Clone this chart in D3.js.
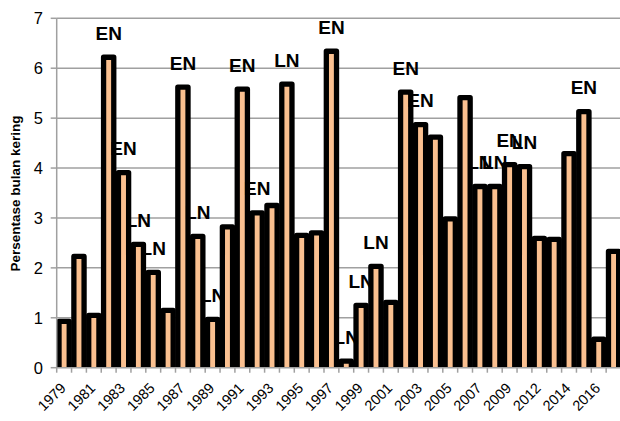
<!DOCTYPE html>
<html>
<head>
<meta charset="utf-8">
<script src="https://cdn.jsdelivr.net/npm/d3@7"></script>
<style>
  html, body { margin: 0; padding: 0; background: #fff; }
  svg { display: block; font-family: "Liberation Sans", Arial, sans-serif; }
</style>
</head>
<body>
<svg id="chart" width="620" height="421"></svg>
<script>
const years = ["1979","1980","1981","1982","1983","1984","1985","1986","1987","1988",
  "1989","1990","1991","1992","1993","1994","1995","1996","1997","1998","1999","2000",
  "2001","2002","2003","2004","2005","2006","2007","2008","2009","2010","2012","2013",
  "2014","2015","2016","2017"];
const values = [0.93, 2.23, 1.05, 6.22, 3.91, 2.47, 1.91, 1.15, 5.62, 2.63,
  0.97, 2.82, 5.58, 3.10, 3.25, 5.68, 2.65, 2.70, 6.34, 0.13, 1.25, 2.03,
  1.31, 5.52, 4.87, 4.62, 2.98, 5.41, 3.63, 3.63, 4.07, 4.03, 2.59, 2.57,
  4.29, 5.13, 0.57, 2.33];
const ensoLabels = ["", "", "", "EN", "EN", "LN", "LN", "", "EN", "LN",
  "LN", "", "EN", "EN", "", "LN", "", "", "EN", "LN", "LN", "LN",
  "", "EN", "EN", "", "", "", "LN", "LN", "EN", "LN", "", "",
  "", "EN", "", ""];
const yTicks = [0, 1, 2, 3, 4, 5, 6, 7];
const yTitle = "Persentase bulan kering";

const data = years.map((y, i) => ({ year: y, value: values[i], label: ensoLabels[i], i }));

const svg = d3.select("#chart");
const x0 = 56.7, x1 = 621.0, yBottom = 367.7, yTop = 18.3;

const x = d3.scaleBand().domain(years).range([x0, x1]).padding(0);
const y = d3.scaleLinear().domain([0, 7]).range([yBottom, yTop]);

const grey = "#a0a0a0";

// gridlines
svg.append("g").selectAll("line")
  .data(yTicks.filter(d => d > 0))
  .join("line")
  .attr("x1", x0).attr("x2", 620)
  .attr("y1", d => y(d)).attr("y2", d => y(d))
  .attr("stroke", grey).attr("stroke-width", 1.5);

// clip so strokes do not go below axis
svg.append("clipPath").attr("id", "plotclip")
  .append("rect").attr("x", 0).attr("y", 0).attr("width", 620).attr("height", yBottom);

const barW = 10.2, sw = 5.3;
svg.append("g").attr("clip-path", "url(#plotclip)")
  .selectAll("rect")
  .data(data)
  .join("rect")
  .attr("x", d => x(d.year) + (x.bandwidth() - barW) / 2)
  .attr("width", barW)
  .attr("y", d => y(d.value))
  .attr("height", d => yBottom + 6 - y(d.value))
  .attr("fill", "#fac090")
  .attr("stroke", "#000")
  .attr("stroke-width", sw)
  .attr("stroke-linejoin", "round");

// data labels (on top of bars, as in the spreadsheet default)
svg.append("g").selectAll("text")
  .data(data.filter(d => d.label))
  .join("text")
  .attr("x", d => x(d.year) + x.bandwidth() / 2)
  .attr("y", d => y(d.value) - 17.5)
  .attr("text-anchor", "middle")
  .attr("font-weight", "bold")
  .attr("font-size", "19px")
  .attr("fill", "#000")
  .text(d => d.label);

// y axis
const yAxis = svg.append("g");
yAxis.append("line")
  .attr("x1", x0).attr("x2", x0).attr("y1", yTop).attr("y2", yBottom)
  .attr("stroke", grey).attr("stroke-width", 1.5);
yAxis.selectAll("line.tick")
  .data(yTicks).join("line").attr("class", "tick")
  .attr("x1", x0 - 6).attr("x2", x0)
  .attr("y1", d => y(d)).attr("y2", d => y(d))
  .attr("stroke", grey).attr("stroke-width", 1.5);
yAxis.selectAll("text")
  .data(yTicks).join("text")
  .attr("x", 43).attr("y", d => y(d))
  .attr("dy", "0.36em")
  .attr("text-anchor", "end")
  .attr("font-size", "16.5px")
  .attr("fill", "#000")
  .text(d => d);

// x axis
const xAxis = svg.append("g");
xAxis.append("line")
  .attr("x1", x0).attr("x2", 620).attr("y1", yBottom).attr("y2", yBottom)
  .attr("stroke", grey).attr("stroke-width", 1.5);
xAxis.selectAll("line.tick")
  .data(d3.range(years.length + 1)).join("line").attr("class", "tick")
  .attr("x1", i => x0 + i * x.step()).attr("x2", i => x0 + i * x.step())
  .attr("y1", yBottom).attr("y2", yBottom + 5)
  .attr("stroke", grey).attr("stroke-width", 1.5);
xAxis.selectAll("text")
  .data(data.filter(d => d.i % 2 === 0)).join("text")
  .attr("transform", d => "translate(" + (x(d.year) + x.bandwidth() / 2 + 2.5) + ",389) rotate(-45)")
  .attr("text-anchor", "end")
  .attr("font-size", "14.5px")
  .attr("fill", "#000")
  .text(d => d.year);

// y title
svg.append("text")
  .attr("transform", "translate(19.5,193.5) rotate(-90)")
  .attr("text-anchor", "middle")
  .attr("font-weight", "bold")
  .attr("font-size", "13.5px")
  .attr("fill", "#000")
  .text(yTitle);
</script>
</body>
</html>
